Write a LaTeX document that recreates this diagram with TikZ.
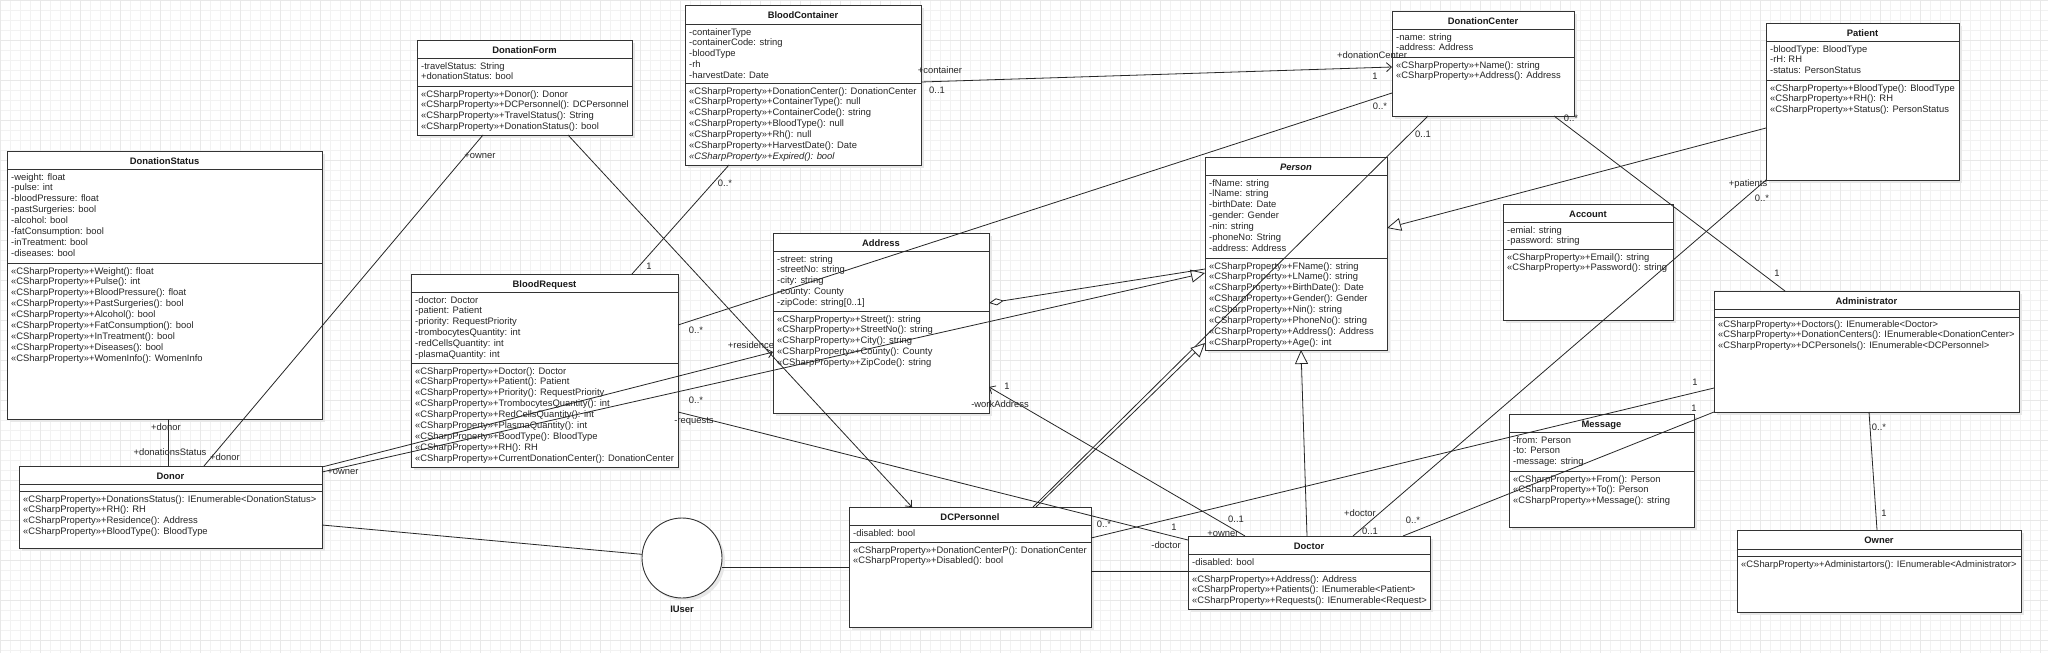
\documentclass[tikz,border=0pt]{standalone}
\usepackage{fontspec}
\setmainfont{Liberation Sans}
\usetikzlibrary{arrows.meta}
\newcommand{\cSP}{«CSharpProperty»}
\tikzset{
  boxline/.style={draw=black!80, line width=0.9pt},
  classbox/.style={draw=black!80, line width=0.9pt, fill=white, rectangle, inner sep=0pt, outer sep=0pt, anchor=north west},
  shadowbox/.style={fill=black!9},
  ttl/.style={font=\fontsize{9.4}{10.9}\selectfont\bfseries, inner sep=0pt, anchor=base, text=black!90},
  txt/.style={font=\fontsize{9.4}{10.9}\selectfont, inner sep=0pt, anchor=base west, text=black!85},
  lbl/.style={font=\fontsize{9.4}{10.9}\selectfont, inner sep=0pt, text=black!85},
  conn/.style={draw=black!85, line width=0.8pt},
  navarrow/.style={-{Straight Barb[length=5pt,width=9pt]}},
  genarrow/.style={-{Triangle[length=14pt,width=13pt,fill=white]}},
  aggr/.style={{Diamond[length=15pt,width=7pt,fill=white]}-},
  gridminor/.style={draw=black!5, line width=0.5pt},
  gridmajor/.style={draw=black!9, line width=0.5pt},
}
% #1 name, #2 x1, #3 y1, #4 x2, #5 y2, #6 header line y, #7 separator y, #8 title
\newcommand{\umlbox}[8]{%
  \fill[shadowbox] (#2+3,#3+3) rectangle (#4+3,#5+3);
  \node[classbox, minimum width={#4-#2}, minimum height={#5-#3}] (#1) at (#2,#3) {};
  \draw[boxline] (#2,#6) -- (#4,#6);
  \draw[boxline] (#2,#7) -- (#4,#7);
  \node[ttl] (#1-t) at ({(#2+#4)/2},{#3+13}) {#8};
}
% #1 name prefix, #2 x, #3 first baseline y, #4 list
\newcommand{\umllines}[4]{%
  \foreach \t [count=\i] in {#4} {
    \node[txt] (#1\i) at (#2,{#3+(\i-1)*10.9}) {\t};
  }
}
\begin{document}
\begin{tikzpicture}[x=1pt,y=-1pt]
\useasboundingbox (0,0) rectangle (2048,653);
\fill[white] (0,0) rectangle (2048,653);
\foreach \gx in {0,10,...,2040} \draw[gridminor] (\gx,0) -- (\gx,653);
\foreach \gy in {0,10,...,650} \draw[gridminor] (0,\gy) -- (2048,\gy);
\foreach \gx in {0,40,...,2040} \draw[gridmajor] (\gx,0) -- (\gx,653);
\foreach \gy in {0,40,...,640} \draw[gridmajor] (0,\gy) -- (2048,\gy);

% ---------- classes ----------
\umlbox{ds}{7}{151}{322}{419}{169}{263}{DonationStatus}
\umllines{ds-a}{11}{180}{-weight: float, -pulse: int, -bloodPressure: float, -pastSurgeries: bool, -alcohol: bool, -fatConsumption: bool, -inTreatment: bool, -diseases: bool}
\umllines{ds-m}{11}{274}{\cSP+Weight(): float, \cSP+Pulse(): int, \cSP+BloodPressure(): float, \cSP+PastSurgeries(): bool, \cSP+Alcohol(): bool, \cSP+FatConsumption(): bool, \cSP+InTreatment(): bool, \cSP+Diseases(): bool, \cSP+WomenInfo(): WomenInfo}

\umlbox{df}{417}{40}{632}{135}{58}{86}{DonationForm}
\umllines{df-a}{421}{69}{-travelStatus: String, +donationStatus: bool}
\umllines{df-m}{421}{97}{\cSP+Donor(): Donor, \cSP+DCPersonnel(): DCPersonnel, \cSP+TravelStatus(): String, \cSP+DonationStatus(): bool}

\umlbox{bc}{685}{5}{921}{165}{24}{83}{BloodContainer}
\umllines{bc-a}{689}{35}{-containerType, -containerCode: string, -bloodType, -rh, -harvestDate: Date}
\umllines{bc-m}{689}{94}{\cSP+DonationCenter(): DonationCenter, \cSP+ContainerType(): null, \cSP+ContainerCode(): string, \cSP+BloodType(): null, \cSP+Rh(): null, \cSP+HarvestDate(): Date, {\itshape\cSP+Expired(): bool}}

\umlbox{dc}{1392}{11}{1574}{116}{29}{57}{DonationCenter}
\umllines{dc-a}{1396}{40}{-name: string, -address: Address}
\umllines{dc-m}{1396}{68}{\cSP+Name(): string, \cSP+Address(): Address}

\umlbox{patient}{1766}{23}{1959}{180}{41}{80}{Patient}
\umllines{patient-a}{1770}{52}{-bloodType: BloodType, -rH: RH, -status: PersonStatus}
\umllines{patient-m}{1770}{91}{\cSP+BloodType(): BloodType, \cSP+RH(): RH, \cSP+Status(): PersonStatus}

\umlbox{person}{1205}{157}{1387}{350}{175}{258}{\itshape Person}
\umllines{person-a}{1209}{186}{-fName: string, -lName: string, -birthDate: Date, -gender: Gender, -nin: string, -phoneNo: String, -address: Address}
\umllines{person-m}{1209}{269}{\cSP+FName(): string, \cSP+LName(): string, \cSP+BirthDate(): Date, \cSP+Gender(): Gender, \cSP+Nin(): string, \cSP+PhoneNo(): string, \cSP+Address(): Address, \cSP+Age(): int}

\umlbox{account}{1503}{204}{1673}{320}{222}{249}{Account}
\umllines{account-a}{1507}{233}{-emial: string, -password: string}
\umllines{account-m}{1507}{260}{\cSP+Email(): string, \cSP+Password(): string}

\umlbox{addr}{773}{233}{989}{413}{251}{311}{Address}
\umllines{addr-a}{777}{262}{-street: string, -streetNo: string, -city: string, -county: County, {-zipCode: string[0..1]}}
\umllines{addr-m}{777}{322}{\cSP+Street(): string, \cSP+StreetNo(): string, \cSP+City(): string, \cSP+County(): County, \cSP+ZipCode(): string}

\umlbox{br}{411}{274}{678}{467}{292}{363}{BloodRequest}
\umllines{br-a}{415}{303}{-doctor: Doctor, -patient: Patient, -priority: RequestPriority, -trombocytesQuantity: int, -redCellsQuantity: int, -plasmaQuantity: int}
\umllines{br-m}{415}{374}{\cSP+Doctor(): Doctor, \cSP+Patient(): Patient, \cSP+Priority(): RequestPriority, \cSP+TrombocytesQuantity(): int, \cSP+RedCellsQuantity(): int, \cSP+PlasmaQuantity(): int, \cSP+BoodType(): BloodType, \cSP+RH(): RH, \cSP+CurrentDonationCenter(): DonationCenter}

\umlbox{admin}{1714}{291}{2019}{412}{309}{317}{Administrator}
\umllines{admin-m}{1718}{327}{\cSP+Doctors(): IEnumerable<Doctor>, \cSP+DonationCenters(): IEnumerable<DonationCenter>, \cSP+DCPersonels(): IEnumerable<DCPersonnel>}

\umlbox{msg}{1509}{414}{1694}{527}{432}{471}{Message}
\umllines{msg-a}{1513}{443}{-from: Person, -to: Person, -message: string}
\umllines{msg-m}{1513}{482}{\cSP+From(): Person, \cSP+To(): Person, \cSP+Message(): string}

\umlbox{owner}{1737}{530}{2021}{612}{549}{556}{Owner}
\umllines{owner-m}{1741}{567}{\cSP+Administartors(): IEnumerable<Administrator>}

\umlbox{donor}{19}{466}{322}{548}{484}{491}{Donor}
\umllines{donor-m}{23}{502}{\cSP+DonationsStatus(): IEnumerable<DonationStatus>, \cSP+RH(): RH, \cSP+Residence(): Address, \cSP+BloodType(): BloodType}

\umlbox{dcp}{849}{507}{1091}{627}{525}{542}{DCPersonnel}
\umllines{dcp-a}{853}{536}{-disabled: bool}
\umllines{dcp-m}{853}{553}{\cSP+DonationCenterP(): DonationCenter, \cSP+Disabled(): bool}

\umlbox{doctor}{1188}{536}{1430}{609}{554}{571}{Doctor}
\umllines{doctor-a}{1192}{565}{-disabled: bool}
\umllines{doctor-m}{1192}{582}{\cSP+Address(): Address, \cSP+Patients(): IEnumerable<Patient>, \cSP+Requests(): IEnumerable<Request>}

% interface lollipop
\fill[shadowbox] (685,561) circle (40pt);
\node[circle, draw=black!80, line width=0.9pt, fill=white, minimum size=80pt, inner sep=0pt, outer sep=0pt] (iuser) at (682,558) {};
\node[ttl] (iuser-l) at (682,612) {IUser};

% ---------- connectors ----------
\draw[conn] ([xshift=161pt]ds.south west) -- ([xshift=149pt]donor.north west);
\draw[conn] ([xshift=66pt]df.south west) -- ([xshift=185pt]donor.north west);
\draw[conn,navarrow] ([xshift=151pt]df.south west) -- ([xshift=63pt]dcp.north west);
\draw[conn] ([xshift=44pt]bc.south west) -- ([xshift=221pt]br.north west);
\draw[conn,navarrow] ([yshift=-77pt]bc.north east) -- ([yshift=-56pt]dc.north west);
\draw[conn] ([yshift=-51pt]br.north east) -- ([yshift=-82pt]dc.north west);
\draw[conn,navarrow] ([yshift=-1pt]donor.north east) -- ([yshift=-119pt]addr.north west);
\draw[conn,genarrow] ([yshift=-6pt]donor.north east) -- ([yshift=-116pt]person.north west);
\draw[conn] ([yshift=-59pt]donor.north east) -- (iuser);
\draw[conn] ([yshift=-9pt]iuser.east) -- ([yshift=-60pt]dcp.north west);
\draw[conn] ([yshift=-64pt]dcp.north east) -- ([yshift=-35pt]doctor.north west);
\draw[conn] ([xshift=36pt]dc.south west) -- ([xshift=184pt]dcp.north west);
\draw[conn,genarrow] ([xshift=187pt]dcp.north west) -- ([yshift=-186pt]person.north west);
\draw[conn,genarrow] ([xshift=119pt]doctor.north west) -- ([xshift=96pt]person.south west);
\draw[conn,genarrow] ([yshift=-105pt]patient.north west) -- ([yshift=-71pt]person.north east);
\draw[conn] ([xshift=162pt]dc.south west) -- ([xshift=71pt]admin.north west);
\draw[conn] (patient.south west) -- ([xshift=165pt]doctor.north west);
\draw[conn,navarrow] ([xshift=57pt]doctor.north west) -- ([yshift=-154pt]addr.north east);
\draw[conn] ([yshift=-138pt]br.north east) -- ([yshift=-4pt]doctor.north west);
\draw[conn] ([yshift=-31pt]dcp.north east) -- ([yshift=-97pt]admin.north west);
\draw[conn] ([xshift=215pt]doctor.north west) -- (admin.south west);
\draw[conn] ([xshift=155pt]admin.south west) -- ([xshift=140pt]owner.north west);
\draw[conn,aggr] ([yshift=-70pt]addr.north east) -- ([yshift=-112pt]person.north west);

% ---------- labels ----------
\node[lbl] (l01) at (166,427) {+donor};
\node[lbl] (l02) at (170,452) {+donationsStatus};
\node[lbl] (l03) at (480,156) {+owner};
\node[lbl] (l04) at (225,457) {+donor};
\node[lbl] (l05) at (725,183) {0..*};
\node[lbl] (l06) at (649,266) {1};
\node[lbl] (l07) at (940,70) {+container};
\node[lbl] (l08) at (937,90) {0..1};
\node[lbl] (l09) at (1372,55) {+donationCenter};
\node[lbl] (l10) at (1375,76) {1};
\node[lbl] (l11) at (696,330) {0..*};
\node[lbl] (l12) at (1380,106) {0..*};
\node[lbl] (l13) at (751,345) {+residence};
\node[lbl] (l14) at (343,472) {+owner};
\node[lbl] (l15) at (1423,134) {0..1};
\node[lbl] (l16) at (1571,118) {0..*};
\node[lbl] (l17) at (1777,273) {1};
\node[lbl] (l18) at (1748,184) {+patients};
\node[lbl] (l19) at (1762,198) {0..*};
\node[lbl] (l20) at (1360,513) {+doctor};
\node[lbl] (l21) at (1370,531) {0..1};
\node[lbl] (l22) at (1007,386) {1};
\node[lbl] (l23) at (1000,404) {-workAddress};
\node[lbl] (l24) at (1236,519) {0..1};
\node[lbl] (l25) at (1223,534) {+owner};
\node[lbl] (l26) at (696,400) {0..*};
\node[lbl] (l27) at (694,421) {-requests};
\node[lbl] (l28) at (1174,527) {1};
\node[lbl] (l29) at (1166,545) {-doctor};
\node[lbl] (l30) at (1104,524) {0..*};
\node[lbl] (l31) at (1695,382) {1};
\node[lbl] (l32) at (1413,520) {0..*};
\node[lbl] (l33) at (1694,408) {1};
\node[lbl] (l34) at (1879,427) {0..*};
\node[lbl] (l35) at (1884,513) {1};
\end{tikzpicture}
\end{document}
